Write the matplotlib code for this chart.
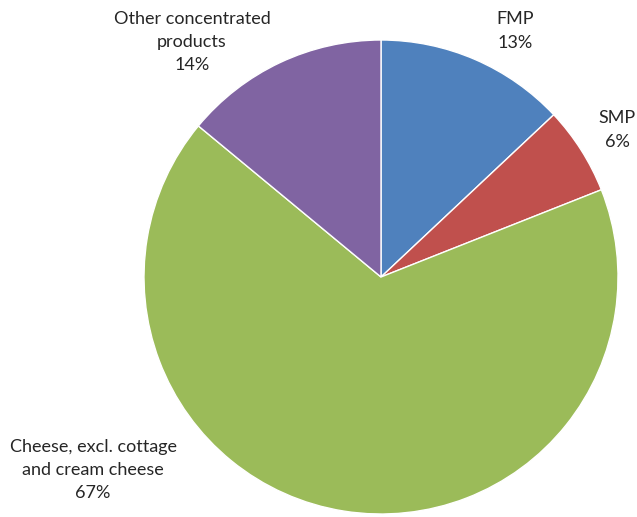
import matplotlib.pyplot as plt

plt.rcParams.update({
    "font.family": ["Lato", "DejaVu Sans"],
    "font.size": 13,
    "text.color": "#262626",
})

labels = ["FMP", "SMP", "Cheese, excl. cottage\nand cream cheese", "Other concentrated\nproducts"]
shares = [13, 6, 67, 14]
colors = ["#4F81BD", "#C0504D", "#9BBB59", "#8064A2"]
# label anchor points in pixel coords (x from left, y from top)
label_pos = [(515, 31), (617, 130), (93, 470), (192, 42)]

W, H = 637, 517
fig = plt.figure(figsize=(W / 100, H / 100), dpi=100)
ax = fig.add_axes([0, 0, 1, 1])

cx, cy, r = 381, 277, 237
ax.pie(shares, colors=colors, startangle=90, counterclock=False,
       center=(cx, H - cy), radius=r, frame=True,
       wedgeprops=dict(edgecolor="white", linewidth=1.0))
ax.set_xlim(0, W)
ax.set_ylim(0, H)
ax.set_aspect("equal")
ax.axis("off")

for lab, val, (x, y) in zip(labels, shares, label_pos):
    ax.text(x, H - y, f"{lab}\n{val}%", ha="center", va="center",
            linespacing=1.55)

fig.savefig("out.png", dpi=100)
